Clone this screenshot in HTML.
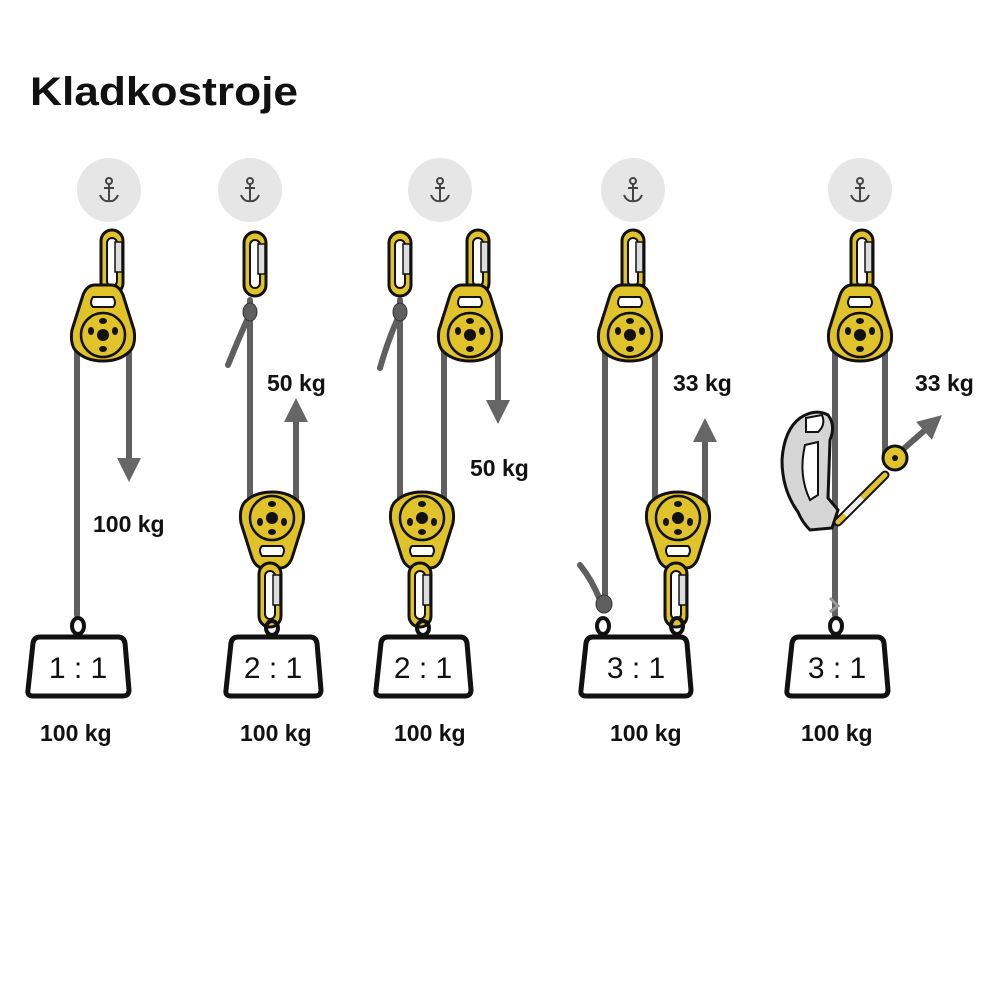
<!DOCTYPE html>
<html><head><meta charset="utf-8"><style>
html,body{margin:0;padding:0;background:#fff;}
svg{display:block;}
text{font-family:"Liberation Sans",sans-serif;font-weight:bold;fill:#111;}
</style></head><body>
<svg width="1000" height="1000" viewBox="0 0 1000 1000" xmlns="http://www.w3.org/2000/svg">
<defs>
  <g id="anchor">
    <circle r="32" fill="#e6e6e6"/>
    <g fill="none" stroke="#444" stroke-width="2">
      <circle cx="0" cy="-9" r="3"/>
      <line x1="0" y1="-6" x2="0" y2="10"/>
      <line x1="-5" y1="-2" x2="5" y2="-2"/>
      <path d="M-9 5 Q-6 12 0 11 Q6 12 9 5"/>
    </g>
  </g>
  <g id="carab">
    <rect x="-11" y="-32" width="22" height="64" rx="11" fill="#e0c22a" stroke="#111" stroke-width="3"/>
    <rect x="-5" y="-24" width="10" height="48" rx="5" fill="#fff" stroke="#111" stroke-width="2"/>
    <rect x="3" y="-20" width="7" height="30" fill="#ddd" stroke="#111" stroke-width="1.5"/>
  </g>
  <g id="pulley">
    <path d="M-8 -50 L8 -50 Q16 -50 20 -40 L31 -5 Q33 8 28 15 Q18 26 0 26 Q-18 26 -28 15 Q-33 8 -31 -5 L-20 -40 Q-16 -50 -8 -50 Z" fill="#e0c22a" stroke="#111" stroke-width="3"/>
    <path d="M-10 -38 L10 -38 Q14 -32 10 -28 L-10 -28 Q-14 -32 -10 -38 Z" fill="#fff" stroke="#111" stroke-width="2"/>
    <circle r="22" fill="none" stroke="#111" stroke-width="2.5"/>
    <circle r="6" fill="#111"/>
    <ellipse cx="-12" cy="-4" rx="3" ry="4" fill="#111"/>
    <ellipse cx="12" cy="-4" rx="3" ry="4" fill="#111"/>
    <ellipse cx="0" cy="14" rx="4" ry="3" fill="#111"/>
    <ellipse cx="0" cy="-14" rx="4" ry="3" fill="#111"/>
  </g>
  <marker id="ah" markerWidth="4" markerHeight="4" refX="2" refY="2" orient="auto" markerUnits="strokeWidth">
    <path d="M0 0 L4 2 L0 4 Z" fill="#666"/>
  </marker>
</defs>

<text x="30" y="105" font-size="40" textLength="268" lengthAdjust="spacingAndGlyphs">Kladkostroje</text>

<g stroke="#5f5f5f" stroke-width="6" fill="none" stroke-linecap="round">
  <line x1="77" y1="340" x2="77" y2="615"/>
  <line x1="129" y1="340" x2="129" y2="470" marker-end="url(#ah)"/>
  <line x1="250" y1="300" x2="250" y2="510"/>
  <path d="M248 318 Q238 340 228 365"/>
  <line x1="296" y1="515" x2="296" y2="410" marker-end="url(#ah)"/>
  <line x1="400" y1="300" x2="400" y2="510"/>
  <path d="M398 318 Q388 340 380 368"/>
  <line x1="444" y1="340" x2="444" y2="510"/>
  <line x1="498" y1="340" x2="498" y2="412" marker-end="url(#ah)"/>
  <line x1="605" y1="340" x2="605" y2="610"/>
  <path d="M600 600 Q592 580 580 565"/>
  <line x1="655" y1="340" x2="655" y2="510"/>
  <line x1="705" y1="515" x2="705" y2="430" marker-end="url(#ah)"/>
  <line x1="835" y1="340" x2="835" y2="615"/>
  <line x1="885" y1="340" x2="885" y2="460"/>
  <line x1="900" y1="452" x2="933" y2="423" marker-end="url(#ah)"/>
</g>

<use href="#anchor" x="109" y="190"/>
<use href="#anchor" x="250" y="190"/>
<use href="#anchor" x="440" y="190"/>
<use href="#anchor" x="633" y="190"/>
<use href="#anchor" x="860" y="190"/>

<use href="#carab" x="112" y="262"/>
<use href="#pulley" x="103" y="335"/>
<use href="#carab" x="255" y="264"/>
<use href="#carab" x="400" y="264"/>
<use href="#carab" x="478" y="262"/>
<use href="#pulley" x="470" y="335"/>
<use href="#carab" x="633" y="262"/>
<use href="#pulley" x="630" y="335"/>
<use href="#carab" x="862" y="262"/>
<use href="#pulley" x="860" y="335"/>

<g fill="#5f5f5f" stroke="#333" stroke-width="1">
  <ellipse cx="250" cy="312" rx="7" ry="9"/>
  <ellipse cx="400" cy="312" rx="7" ry="9"/>
  <ellipse cx="604" cy="604" rx="8" ry="9"/>
</g>

<g transform="translate(272,518) rotate(180)"><use href="#pulley"/></g>
<use href="#carab" x="270" y="595"/>
<g transform="translate(422,518) rotate(180)"><use href="#pulley"/></g>
<use href="#carab" x="420" y="595"/>
<g transform="translate(678,518) rotate(180)"><use href="#pulley"/></g>
<use href="#carab" x="676" y="595"/>

<!-- ascender system 5 -->
<path d="M800 418 Q815 408 828 415 Q836 425 830 440 L828 498 L838 510 L832 528 L810 530 Q802 522 798 512 Q782 490 782 460 Q784 430 800 418 Z" fill="#d5d5d5" stroke="#111" stroke-width="3"/>
<path d="M806 418 L822 415 Q826 425 818 432 L806 432 Z" fill="#fff" stroke="#111" stroke-width="2"/>
<path d="M805 445 L818 442 L818 495 L810 500 Q798 475 805 445 Z" fill="#fff" stroke="#111" stroke-width="2"/>
<line x1="838" y1="522" x2="885" y2="475" stroke="#111" stroke-width="9" stroke-linecap="round"/>
<line x1="838" y1="522" x2="885" y2="475" stroke="#e0c22a" stroke-width="5" stroke-linecap="round"/>
<line x1="845" y1="515" x2="862" y2="498" stroke="#eee" stroke-width="5"/>
<circle cx="895" cy="458" r="12" fill="#e0c22a" stroke="#111" stroke-width="3"/>
<circle cx="895" cy="458" r="3" fill="#111"/>
<path d="M830 598 L838 606 L830 612" fill="none" stroke="#999" stroke-width="3"/>

<g fill="none" stroke="#111" stroke-width="4">
  <ellipse cx="78" cy="626" rx="6" ry="8"/>
  <ellipse cx="272" cy="628" rx="6" ry="7"/>
  <ellipse cx="423" cy="628" rx="6" ry="7"/>
  <ellipse cx="603" cy="626" rx="6" ry="8"/>
  <ellipse cx="677" cy="626" rx="6" ry="8"/>
  <ellipse cx="836" cy="626" rx="6" ry="8"/>
</g>

<g fill="#fff" stroke="#111" stroke-width="5" stroke-linejoin="round">
  <path d="M40 637 L118 637 Q124 637 125 643 L129 690 Q129 696 123 696 L33 696 Q27 696 28 690 L33 643 Q34 637 40 637 Z"/>
  <path d="M238 637 L310 637 Q316 637 317 643 L321 690 Q321 696 315 696 L231 696 Q225 696 226 690 L231 643 Q232 637 238 637 Z"/>
  <path d="M388 637 L460 637 Q466 637 467 643 L471 690 Q471 696 465 696 L381 696 Q375 696 376 690 L381 643 Q382 637 388 637 Z"/>
  <path d="M593 637 L680 637 Q686 637 687 643 L691 690 Q691 696 685 696 L586 696 Q580 696 581 690 L586 643 Q587 637 593 637 Z"/>
  <path d="M799 637 L877 637 Q883 637 884 643 L888 690 Q888 696 882 696 L792 696 Q786 696 787 690 L792 643 Q793 637 799 637 Z"/>
</g>
<g font-size="30" text-anchor="middle">
  <text x="78" y="678" style="font-weight:normal">1 : 1</text>
  <text x="273" y="678" style="font-weight:normal">2 : 1</text>
  <text x="423" y="678" style="font-weight:normal">2 : 1</text>
  <text x="636" y="678" style="font-weight:normal">3 : 1</text>
  <text x="837" y="678" style="font-weight:normal">3 : 1</text>
</g>

<g font-size="23">
  <text x="93" y="532">100 kg</text>
  <text x="267" y="391">50 kg</text>
  <text x="470" y="476">50 kg</text>
  <text x="673" y="391">33 kg</text>
  <text x="915" y="391">33 kg</text>
  <text x="40" y="741">100 kg</text>
  <text x="240" y="741">100 kg</text>
  <text x="394" y="741">100 kg</text>
  <text x="610" y="741">100 kg</text>
  <text x="801" y="741">100 kg</text>
</g>
</svg>
</body></html>
